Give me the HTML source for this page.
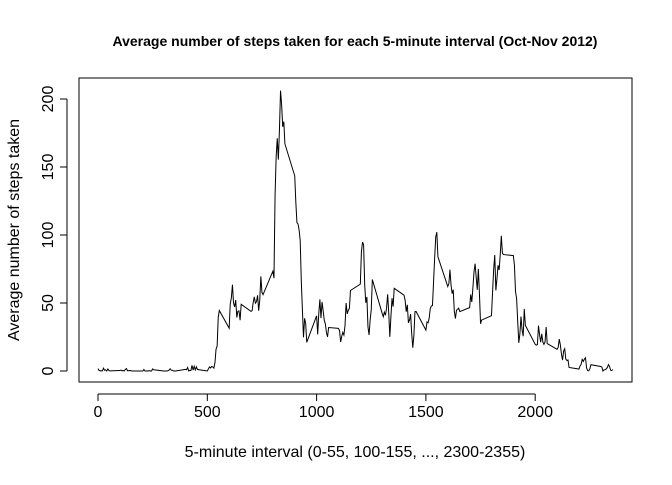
<!DOCTYPE html>
<html><head><meta charset="utf-8"><style>
body{margin:0;background:#fff}
svg text{font-family:"Liberation Sans",sans-serif;fill:#000}
</style></head><body>
<svg id="chart" width="672" height="480">
<text x="355" y="46" font-size="14" font-weight="bold" text-anchor="middle">Average number of steps taken for each 5-minute interval (Oct-Nov 2012)</text>
<rect x="79" y="78" width="553" height="304" fill="none" stroke="#000" stroke-width="1"/>
<text x="355" y="457" font-size="16" text-anchor="middle">5-minute interval (0-55, 100-155, ..., 2300-2355)</text>
<text transform="translate(19,230) rotate(-90)" font-size="16" text-anchor="middle">Average number of steps taken</text>
<g id="axes"></g>
<path id="line" fill="none" stroke="#000" stroke-width="1"/>
</svg>
<script>
const steps = [1.717,0.340,0.132,0.151,0.075,2.094,0.528,0.868,0,1.472,0.302,0.132,
0.321,0.679,0.151,0.340,0,1.113,1.830,0.170,0.170,0.377,0.264,0,
0,0,1.132,0,0,0.132,0,0.226,0,0,1.547,0.943,
0,0,0,0,0.208,0.623,1.623,0.585,0.491,0.075,0,0,
1.189,0.943,2.566,0,0.340,0.358,4.113,0.660,3.491,0.830,3.113,1.113,
0,1.566,3.0,2.245,3.321,2.962,2.09,6.06,16.02,18.34,39.45,44.49,
31.49,49.26,53.77,63.45,49.96,47.08,52.15,39.34,44.02,44.17,37.36,49.04,
43.81,44.38,50.51,54.51,49.92,50.98,55.68,44.32,52.26,69.55,57.85,56.15,
73.38,68.21,129.43,157.53,171.15,155.40,177.30,206.17,195.92,179.57,183.40,167.02,
143.45,124.04,109.11,108.11,103.72,95.96,66.21,45.23,24.79,38.75,34.98,21.06,
40.57,26.98,42.42,52.66,38.92,50.79,44.28,37.42,34.70,28.34,25.09,31.94,
31.36,29.68,21.32,25.55,28.38,26.47,33.43,49.98,42.04,44.60,46.04,59.19,
63.87,87.70,94.85,92.77,63.40,50.17,54.47,32.42,26.53,37.74,45.06,67.28,
42.34,39.88,43.26,40.98,46.25,56.43,42.75,25.13,39.96,53.55,47.32,60.81,
55.75,51.96,43.58,48.70,35.47,37.55,41.85,27.51,17.11,26.08,43.62,43.77,
30.02,36.08,35.49,38.85,45.96,47.75,48.13,65.32,82.91,98.66,102.11,83.96,
62.13,64.13,74.55,63.17,56.91,59.77,43.87,38.57,44.66,45.45,46.21,43.68,
46.62,56.30,50.72,61.23,72.72,78.94,68.94,59.66,75.09,56.51,34.77,37.45,
40.68,58.02,74.70,85.32,59.26,67.77,77.70,74.25,85.34,99.45,86.58,85.60,
84.87,77.83,58.04,53.36,36.33,20.72,27.40,40.02,30.21,25.55,45.66,33.53,
19.62,19.02,19.34,33.34,26.81,21.17,27.30,21.34,19.55,21.32,32.30,20.15,
15.94,17.23,23.45,19.25,12.45,8.02,14.66,16.30,8.68,7.79,8.13,2.62,
1.45,3.68,4.81,8.51,7.08,8.70,9.75,2.21,0.32,0.11,1.60,4.60,
3.30,2.85,0,0.83,0.96,1.58,2.60,4.70,3.30,0.64,0.23,1.08];
const xTicks = [0,500,1000,1500,2000];
const yTicks = [0,50,100,150,200];
const intervals = steps.map((_, i) => Math.floor(i/12)*100 + (i%12)*5);

const xs = v => 98 + v*0.2186;
const ys = v => 371 - v*1.36;
const NS = "http://www.w3.org/2000/svg";
const axes = document.getElementById('axes');
function mk(tag, attrs, txt){const e=document.createElementNS(NS,tag);for(const k in attrs)e.setAttribute(k,attrs[k]);if(txt!==undefined)e.textContent=txt;axes.appendChild(e);return e;}

const xa = mk('line',{x1:xs(xTicks[0]),x2:xs(xTicks[xTicks.length-1]),y1:394,y2:394,stroke:'#000'});


xTicks.forEach(t=>{
  const l=mk('line',{x1:xs(t),x2:xs(t),y1:394,y2:401,stroke:'#000'});
  
  
  const tx=mk('text',{x:xs(t),y:417,'font-size':16,'text-anchor':'middle'},String(t));
  
  
});
const ya = mk('line',{x1:67,x2:67,y1:ys(yTicks[0]),y2:ys(yTicks[yTicks.length-1]),stroke:'#000'});


yTicks.forEach(t=>{
  const l=mk('line',{x1:60,x2:67,y1:ys(t),y2:ys(t),stroke:'#000'});
  
  
  const tx=mk('text',{transform:`translate(53,${ys(t)}) rotate(-90)`,'font-size':16,'text-anchor':'middle'},String(t));
  
  
});
document.getElementById('line').setAttribute('d', steps.map((v,i)=>(i?'L':'M')+xs(intervals[i]).toFixed(2)+','+ys(v).toFixed(2)).join(''));
</script>
</body></html>
